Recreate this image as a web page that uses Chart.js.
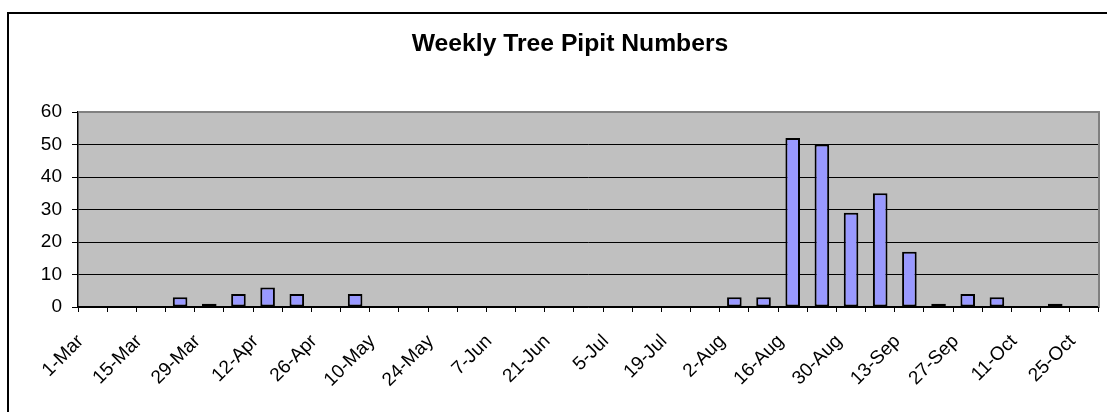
<!DOCTYPE html>
<html>
<head>
<meta charset="utf-8">
<script src="https://cdn.jsdelivr.net/npm/chart.js@4.4.1/dist/chart.umd.min.js"></script>
<style>
  html, body { margin: 0; padding: 0; background: #fff; }
  #wrap { width: 1107px; height: 412px; position: relative; }
</style>
</head>
<body>
<div id="wrap"><canvas id="c" width="1107" height="412"></canvas></div>
<script>
const chartTitle = 'Weekly Tree Pipit Numbers';
const weeks = ['1-Mar','8-Mar','15-Mar','22-Mar','29-Mar','5-Apr','12-Apr','19-Apr','26-Apr',
  '3-May','10-May','17-May','24-May','31-May','7-Jun','14-Jun','21-Jun','28-Jun',
  '5-Jul','12-Jul','19-Jul','26-Jul','2-Aug','9-Aug','16-Aug','23-Aug','30-Aug',
  '6-Sep','13-Sep','20-Sep','27-Sep','4-Oct','11-Oct','18-Oct','25-Oct'];
const pipits = [null,null,null,3,1,4,6,4,null,4,null,null,null,null,null,null,null,null,
  null,null,null,null,3,3,52,50,29,35,17,1,4,3,null,1,null];
const yTicks = [0,10,20,30,40,50,60];

const FONT = '"Liberation Sans", Arial, sans-serif';

const framePlugin = {
  id: 'frame',
  beforeDraw(chart) {
    const { ctx, chartArea: a } = chart;
    ctx.save();
    ctx.fillStyle = '#ffffff';
    ctx.fillRect(0, 0, chart.width, chart.height);
    ctx.fillStyle = '#C0C0C0';
    ctx.fillRect(a.left, a.top, a.right - a.left, a.bottom - a.top);
    ctx.strokeStyle = '#000';
    ctx.lineWidth = 2;
    ctx.beginPath();
    ctx.moveTo(8, chart.height + 5);
    ctx.lineTo(8, 13);
    ctx.lineTo(chart.width + 5, 13);
    ctx.stroke();
    ctx.font = 'bold 24.7px ' + FONT;
    ctx.fillStyle = '#000';
    ctx.textAlign = 'center';
    ctx.textBaseline = 'alphabetic';
    ctx.fillText(chartTitle, 570, 51);
    ctx.restore();
  },
  beforeDatasetsDraw(chart) {
    const { ctx, chartArea: a } = chart;
    ctx.save();
    ctx.strokeStyle = '#808080';
    ctx.lineWidth = 2;
    ctx.beginPath();
    ctx.moveTo(a.left, a.top);
    ctx.lineTo(a.right, a.top);
    ctx.lineTo(a.right, a.bottom);
    ctx.stroke();
    ctx.restore();
  }
};

new Chart(document.getElementById('c'), {
  type: 'bar',
  data: {
    labels: weeks,
    datasets: [{
      data: pipits,
      backgroundColor: '#9999FF',
      borderColor: '#000000',
      borderWidth: 2,
      borderSkipped: false,
      categoryPercentage: 1,
      barPercentage: 0.5
    }]
  },
  plugins: [framePlugin],
  options: {
    responsive: false,
    animation: false,
    layout: { padding: { left: 0, right: 8, top: 112, bottom: 0 } },
    plugins: { legend: { display: false }, title: { display: false }, tooltip: { enabled: false } },
    scales: {
      x: {
        offset: true,
        grid: { offset: true, drawOnChartArea: false, drawTicks: true, tickLength: 5, tickColor: '#000', color: '#000' },
        border: { display: true, color: '#000', width: 1.5 },
        ticks: {
          autoSkip: false,
          maxRotation: 45,
          minRotation: 45,
          padding: 19,
          labelOffset: -12,
          color: '#000',
          font: { family: FONT, size: 19, lineHeight: 1.1 },
          callback: function(v, i) { return i % 2 === 0 ? weeks[i] : ''; }
        },
        afterFit(scale) { scale.height = 105; scale.paddingLeft = 0; scale.paddingRight = 0; }
      },
      y: {
        min: 0,
        max: 60,
        afterBuildTicks(scale) { scale.ticks = yTicks.map(v => ({ value: v })); },
        grid: { color: '#000', lineWidth: 1, drawTicks: true, tickLength: 6, tickColor: '#000' },
        border: { display: true, color: '#000', width: 1.5 },
        ticks: { color: '#000', padding: 10, font: { family: FONT, size: 19 } },
        afterFit(scale) { scale.width = 78; scale.paddingTop = 0; scale.paddingBottom = 0; }
      }
    }
  }
});
</script>
</body>
</html>
